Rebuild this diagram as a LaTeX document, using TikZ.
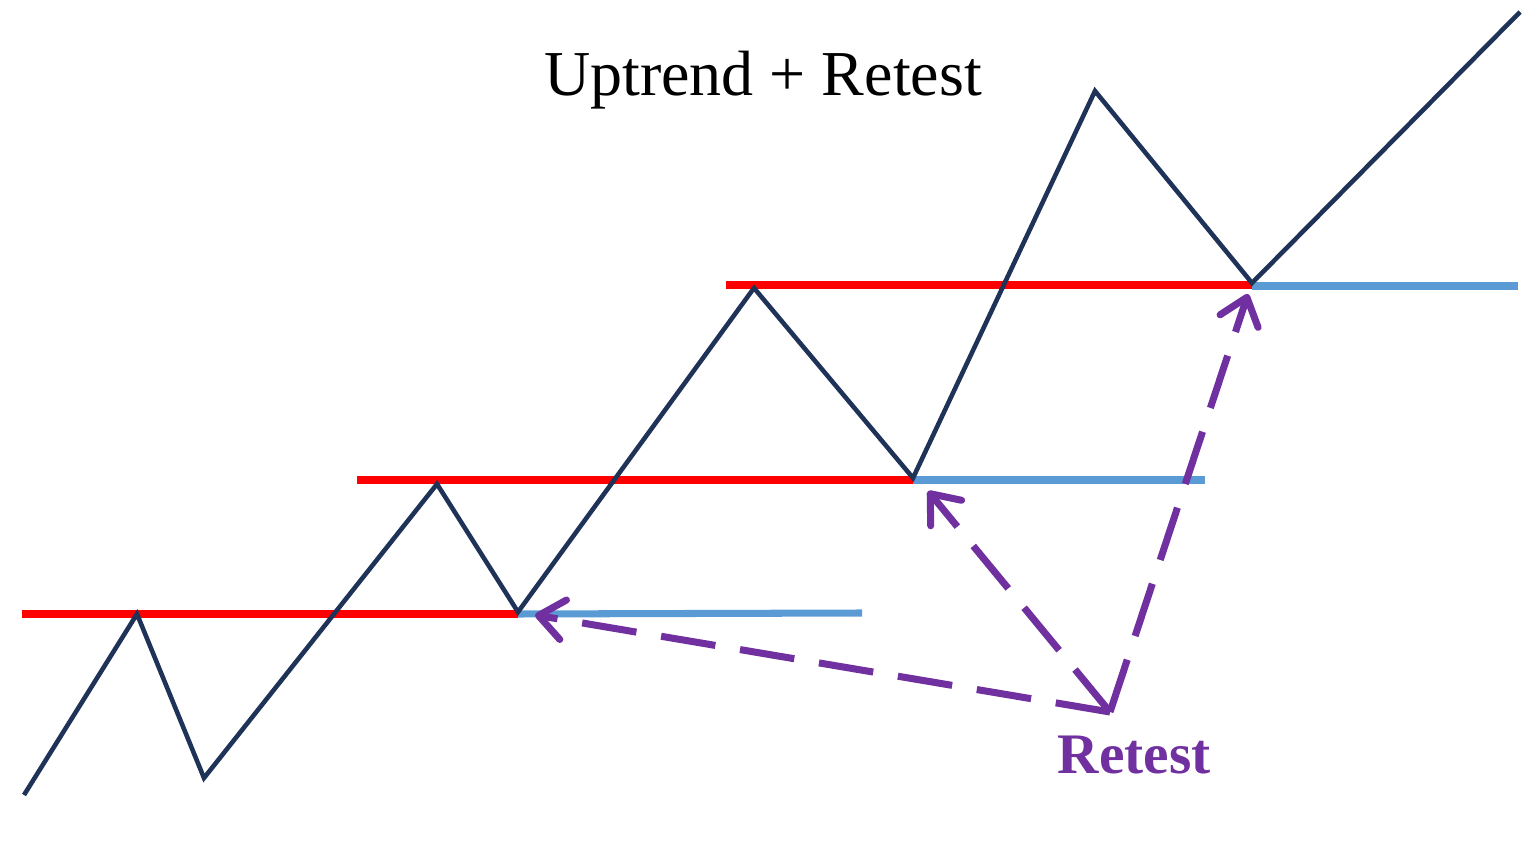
\documentclass[tikz,border=0pt]{standalone}
\usepackage{fontspec}
\setmainfont{Liberation Serif}
\usetikzlibrary{%
  arrows.meta,%
  calc%
}
\definecolor{navy}{RGB}{31,50,88}
\definecolor{lvlred}{RGB}{255,0,0}
\definecolor{lvlblue}{RGB}{91,155,213}
\definecolor{rtpurple}{RGB}{112,48,160}
\tikzset{
  trend/.style={navy, line width=1.3pt, line join=miter},
  resist/.style={lvlred, line width=2.3pt},
  support/.style={lvlblue, line width=2pt},
  retarrow/.style={rtpurple, line width=2pt, dash pattern=on 5.5mm off 2.5mm,
    -{Straight Barb[length=2.5mm, width=4mm, line cap=round, line join=round]}}
}

\begin{document}
\begin{tikzpicture}[x=0.01cm, y=-0.01cm]
\useasboundingbox (0,0) rectangle (1536,861);

\coordinate (p0) at (24,795);
\coordinate (p1) at (137,614);
\coordinate (p2) at (204,778);
\coordinate (p3) at (437,484);
\coordinate (p4) at (518,612);
\coordinate (p5) at (754,288);
\coordinate (p6) at (913,478);
\coordinate (p7) at (1095,91);
\coordinate (p8) at (1252,283);
\coordinate (p9) at (1520,12);

\coordinate (r1a) at (22,614);
\coordinate (r1b) at (518,614);
\coordinate (r2a) at (357,480);
\coordinate (r2b) at (913,480);
\coordinate (r3a) at (726,285);
\coordinate (r3b) at (1254,285);
\coordinate (s1) at (862,613);
\coordinate (s2) at (1205,480);
\coordinate (s3) at (1518,286);

\draw[resist] (r1a) -- (r1b);
\draw[resist] (r2a) -- (r2b);
\draw[resist] (r3a) -- (r3b);
\draw[support] (r1b) -- (s1);
\draw[support] (r2b) -- (s2);
\draw[support] ($(r3b)+(-2,1)$) -- (s3);

\draw[trend] (p0) -- (p1) -- (p2) -- (p3) -- (p4) -- (p5) -- (p6) -- (p7) -- (p8) -- (p9);

\node (title) at (763,80) {\fontsize{18.2pt}{22pt}\selectfont Uptrend + Retest};

\coordinate (rt) at (1110,712);
\node[rtpurple, font=\fontsize{16.3pt}{19pt}\selectfont\bfseries] (retest) at (1134,755) {Retest};
\coordinate (t1) at (535,615);
\coordinate (t2) at (928,491);
\coordinate (t3) at (1248,294);

\draw[retarrow] (rt) -- (t1);
\draw[retarrow] (rt) -- (t2);
\draw[retarrow] (rt) -- (t3);
\end{tikzpicture}
\end{document}
